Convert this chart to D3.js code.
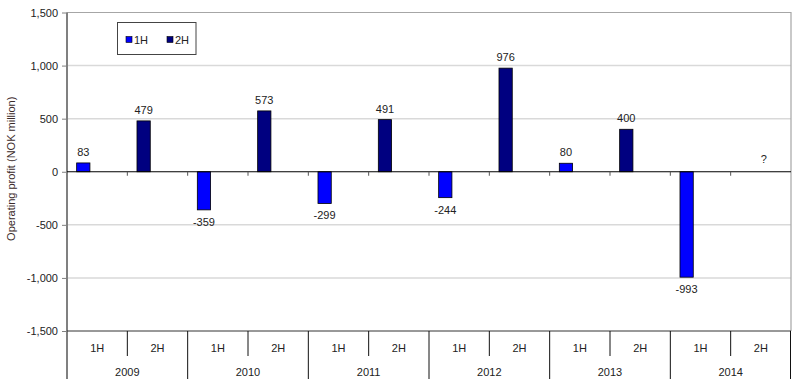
<!DOCTYPE html>
<html lang="en">
<head>
    <meta charset="utf-8" />
    <title>Operating profit by half-year</title>
    <script src="https://cdn.jsdelivr.net/npm/d3@7/dist/d3.min.js"></script>
    <style>
        body { margin: 0; background: #fff; }
        svg text { font-family: "Liberation Sans", Arial, sans-serif; font-size: 11px; fill: #222; }
    </style>
</head>
<body>
<svg id="chart" width="800" height="385"></svg>
<script>
    // Data
    const years = ["2009", "2010", "2011", "2012", "2013", "2014"];
    const halves = ["1H", "2H"];
    const firstHalf = [83, -359, -299, -244, 80, -993];
    const secondHalf = [479, 573, 491, 976, 400, null]; // 2014 2H not known yet
    const yTicks = [-1500, -1000, -500, 0, 500, 1000, 1500];

    const colors = { "1H": "#0000ff", "2H": "#000080" };

    // plain hyphen minus like the original, not the unicode one d3 uses
    const fmt = d3.formatLocale({ decimal: ".", thousands: ",", grouping: [3], currency: ["", ""], minus: "-" }).format(",");

    // one row per half-year slot
    const rows = [];
    years.forEach((yr, i) => {
        rows.push({ key: yr + "-1H", year: yr, half: "1H", value: firstHalf[i] });
        rows.push({ key: yr + "-2H", year: yr, half: "2H", value: secondHalf[i] });
    });

    const svg = d3.select("#chart");
    const plotLeft = 67, plotRight = 791, plotTop = 12.5, plotBottom = 331;

    const x = d3.scaleBand().domain(rows.map(d => d.key)).range([plotLeft, plotRight]);
    const y = d3.scaleLinear().domain([-1500, 1500]).range([plotBottom, plotTop]);
    const slot = x.bandwidth();
    const barOff = slot * 0.16, barW = slot * 0.22;

    // gridlines
    svg.append("g").selectAll("line")
        .data(yTicks.filter(t => t !== 0 && t !== -1500 && t !== 1500))
        .enter().append("line")
        .attr("x1", plotLeft).attr("x2", plotRight)
        .attr("y1", d => y(d)).attr("y2", d => y(d))
        .attr("stroke", "#d9d9d9").attr("stroke-width", 1.5);

    // plot frame (top and right)
    svg.append("path")
        .attr("d", `M${plotLeft},${y(1500)}H${plotRight}V${plotBottom}`)
        .attr("fill", "none").attr("stroke", "#a6a6a6").attr("stroke-width", 1.2);

    // y axis
    const yAxis = svg.append("g")
        .attr("transform", `translate(${plotLeft},0)`)
        .call(d3.axisLeft(y).tickValues(yTicks).tickSize(5).tickPadding(4).tickFormat(fmt));
    yAxis.select(".domain").remove();
    yAxis.selectAll(".tick line").attr("stroke", "#808080");
    yAxis.selectAll(".tick text").style("font-size", "11px").attr("fill", "#222");
    svg.append("line")
        .attr("x1", plotLeft).attr("x2", plotLeft).attr("y1", plotTop).attr("y2", 379)
        .attr("stroke", "#808080").attr("stroke-width", 2);

    svg.append("text")
        .attr("transform", `translate(15,${(plotTop + plotBottom) / 2 - 3}) rotate(-90)`)
        .attr("text-anchor", "middle")
        .style("fill", "#3a2a2a")
        .text("Operating profit (NOK million)");

    // bars
    svg.append("g").selectAll("rect")
        .data(rows.filter(d => d.value !== null))
        .enter().append("rect")
        .attr("x", d => x(d.key) + barOff)
        .attr("width", barW)
        .attr("y", d => y(Math.max(0, d.value)))
        .attr("height", d => Math.abs(y(d.value) - y(0)))
        .attr("fill", d => colors[d.half])
        .attr("stroke", "#000").attr("stroke-width", 0.8);

    // value labels
    svg.append("g").selectAll("text")
        .data(rows)
        .enter().append("text")
        .attr("text-anchor", "middle")
        .attr("x", d => d.value === null ? x(d.key) + slot / 2 + 3 : x(d.key) + barOff + barW / 2)
        .attr("y", d => d.value === null ? y(0) - 9 : d.value >= 0 ? y(d.value) - 7 : y(d.value) + 16)
        .text(d => d.value === null ? "?" : fmt(d.value));

    // zero line with small ticks
    svg.append("line")
        .attr("x1", plotLeft).attr("x2", plotRight).attr("y1", y(0)).attr("y2", y(0))
        .attr("stroke", "#000").attr("stroke-width", 1);
    svg.append("g").selectAll("line")
        .data(rows.slice(1))
        .enter().append("line")
        .attr("x1", d => x(d.key)).attr("x2", d => x(d.key))
        .attr("y1", y(0)).attr("y2", y(0) + 4)
        .attr("stroke", "#555");

    // bottom category axis: half labels + year groups
    svg.append("line")
        .attr("x1", plotLeft).attr("x2", plotRight).attr("y1", plotBottom).attr("y2", plotBottom)
        .attr("stroke", "#333");
    svg.append("g").selectAll("line")
        .data(rows.slice(1))
        .enter().append("line")
        .attr("x1", d => x(d.key)).attr("x2", d => x(d.key))
        .attr("y1", plotBottom)
        .attr("y2", d => d.half === "1H" ? 379 : 356)
        .attr("stroke", "#111");
    svg.append("line")
        .attr("x1", plotRight - 0.5).attr("x2", plotRight - 0.5).attr("y1", plotBottom).attr("y2", 379)
        .attr("stroke", "#111");
    svg.append("g").selectAll("text")
        .data(rows)
        .enter().append("text")
        .attr("text-anchor", "middle")
        .attr("x", d => x(d.key) + slot / 2)
        .attr("y", 352)
        .text(d => d.half);
    svg.append("g").selectAll("text")
        .data(years)
        .enter().append("text")
        .attr("text-anchor", "middle")
        .attr("x", d => x(d + "-1H") + slot)
        .attr("y", 376)
        .text(d => d);

    // legend
    const legend = svg.append("g");
    legend.append("rect")
        .attr("x", 117.5).attr("y", 22.5).attr("width", 78.5).attr("height", 32)
        .attr("fill", "#fff").attr("stroke", "#444").attr("stroke-width", 1);
    halves.forEach((h, i) => {
        const lx = 126 + i * 41;
        legend.append("rect")
            .attr("x", lx).attr("y", 36.5).attr("width", 6).attr("height", 6)
            .attr("fill", colors[h]).attr("stroke", "#000").attr("stroke-width", 0.6);
        legend.append("text")
            .attr("x", lx + 8).attr("y", 43.5)
            .text(h);
    });
</script>
</body>
</html>
